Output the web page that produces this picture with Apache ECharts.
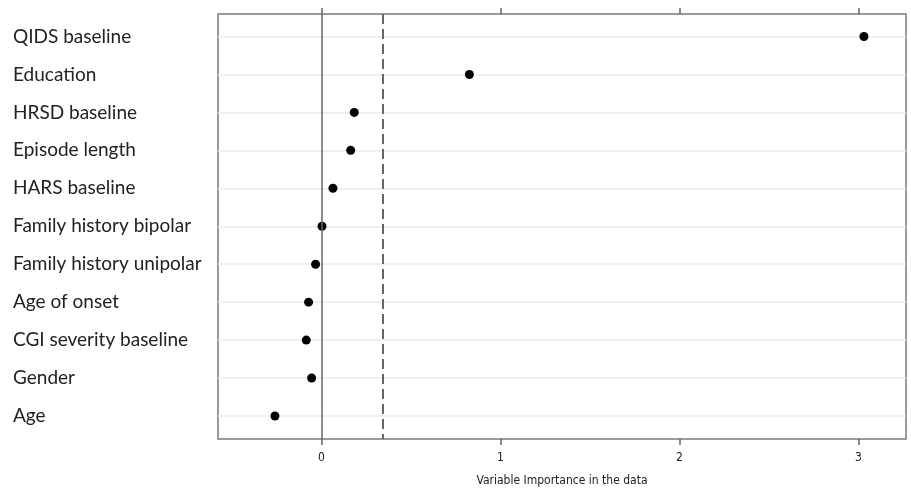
<!DOCTYPE html>
<html>
<head>
<meta charset="utf-8">
<script src="https://cdn.jsdelivr.net/npm/echarts@6/dist/echarts.min.js"></script>
<style>
  html, body { margin: 0; padding: 0; background: #fff; }
  #chart { width: 911px; height: 489px; }
</style>
</head>
<body>
<div id="chart"></div>
<script>
// variables, top to bottom
var variables = [
    'QIDS baseline', 'Education', 'HRSD baseline', 'Episode length', 'HARS baseline',
    'Family history bipolar', 'Family history unipolar', 'Age of onset',
    'CGI severity baseline', 'Gender', 'Age'
];
var importance = [3.03, 0.826, 0.183, 0.163, 0.064, 0.003, -0.033, -0.072, -0.085, -0.055, -0.26];
var xTicks = [0, 1, 2, 3];
var referenceLines = [0, 0.342];   // solid zero line, dashed threshold

var rowIndex = variables.map(function (v, i) { return i; });
var points = importance.map(function (v, i) { return [v, i]; });

var narrowFont = 'Liberation Sans Narrow, DejaVu Sans Condensed, sans-serif';
var chart = echarts.init(document.getElementById('chart'));
var xBase = {
    type: 'value',
    min: -0.578,
    max: 3.265,
    splitLine: { show: false },
    axisLine: { show: false, onZero: false }
};
var option = {
    animation: false,
    grid: {
        left: 218, right: 5, top: 14, bottom: 50,
        outerBoundsMode: 'none',
        containLabel: false,
        show: true, borderColor: '#7a7a7a', borderWidth: 1.5
    },
    xAxis: [
        Object.assign({}, xBase, {
            position: 'bottom',
            name: 'Variable Importance in the data',
            nameLocation: 'middle',
            nameGap: 36,
            nameTextStyle: { fontFamily: narrowFont, fontSize: 12, color: '#222' },
            axisTick: { show: true, length: 6, lineStyle: { color: '#666', width: 1.5 }, customValues: xTicks },
            axisLabel: { customValues: xTicks, margin: 13, fontFamily: narrowFont, fontSize: 12, color: '#222' }
        }),
        Object.assign({}, xBase, {
            position: 'top',
            axisTick: { show: true, length: 6, lineStyle: { color: '#666', width: 1.5 }, customValues: xTicks },
            axisLabel: { show: false }
        })
    ],
    yAxis: {
        type: 'value',
        inverse: true,
        min: -0.593,
        max: 10.606,
        axisLine: { show: false, onZero: false },
        axisTick: { show: false, customValues: rowIndex },
        splitLine: { show: true, lineStyle: { color: '#ebebeb', width: 1.5 } },
        axisLabel: {
            customValues: rowIndex,
            align: 'left',
            margin: 205,
            fontFamily: 'Lato, sans-serif',
            fontSize: 19,
            color: '#222',
            formatter: function (v) { return variables[v]; }
        }
    },
    series: [{
        type: 'scatter',
        data: points,
        symbolSize: 9,
        itemStyle: { color: '#000', opacity: 1 },
        markLine: {
            silent: true,
            symbol: 'none',
            label: { show: false },
            data: [
                { xAxis: referenceLines[0], lineStyle: { color: '#666', width: 1.5, type: 'solid' } },
                { xAxis: referenceLines[1], lineStyle: { color: '#666', width: 2, type: [10, 5] } }
            ]
        }
    }]
};
chart.setOption(option);
</script>
</body>
</html>
